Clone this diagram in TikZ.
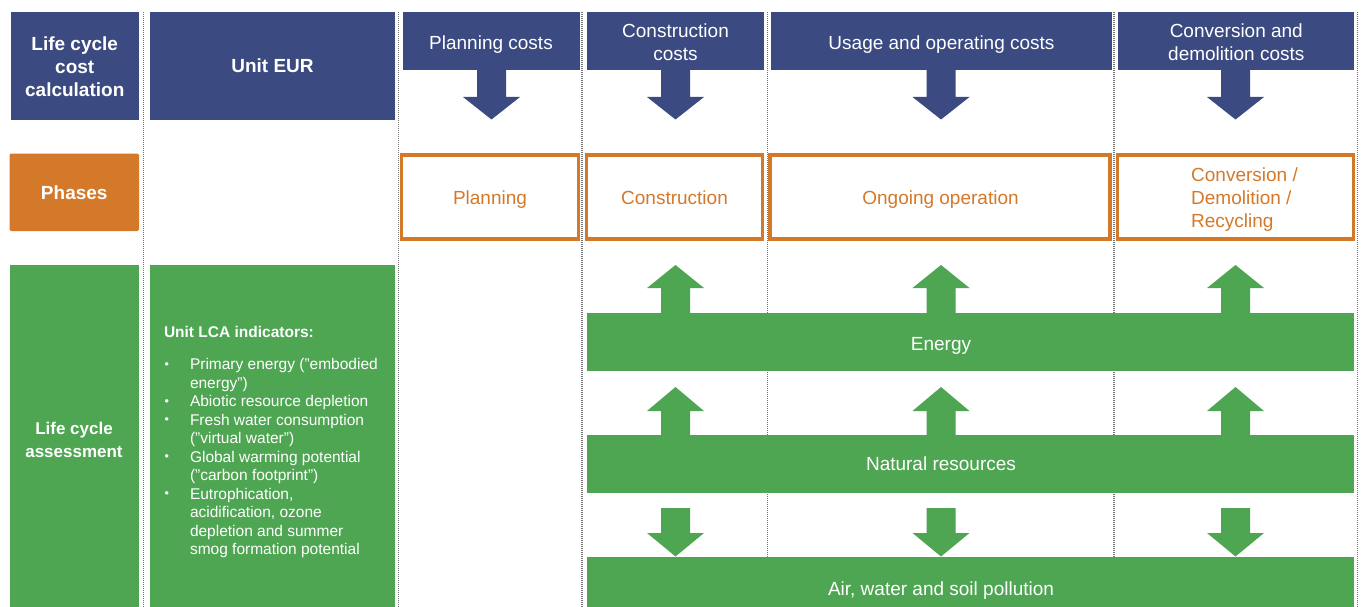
\documentclass[tikz,border=0pt]{standalone}
\usepackage{fontspec}
\setmainfont{Liberation Sans}
\definecolor{navy}{HTML}{3B4A80}
\definecolor{lcorange}{HTML}{D4792A}
\definecolor{lcgreen}{HTML}{4EA652}
\newcommand\fs[2]{\fontsize{#1}{#2}\selectfont}
\newcommand\lcabullet{\makebox[27pt][l]{\hspace{1.5pt}\raisebox{1.8pt}{\fs{12.5}{12.5}\textbullet}}}
% #1 centre x, #2 shaft end, #3 head base, #4 tip, #5 colour
\newcommand\FatArrow[5]{%
  \fill[#5] (#1-14.5,#2) -- (#1+14.5,#2) -- (#1+14.5,#3) -- (#1+28.5,#3) -- (#1,#4)
    -- (#1-28.5,#3) -- (#1-14.5,#3) -- cycle;}
\tikzset{
  box/.style={inner sep=0pt, outer sep=0pt},
  navybox/.style={box, fill=navy},
  phasefill/.style={box, fill=lcorange},
  phasebox/.style={box, draw=lcorange, fill=white, line width=3.3pt},
  greenbox/.style={box, fill=lcgreen},
  lbl/.style={inner sep=0pt, outer sep=0pt, align=center},
  wlbl/.style={lbl, text=white, font=\fs{19}{23}},
  wblbl/.style={lbl, text=white, font=\bfseries\fs{19}{23}},
  olbl/.style={lbl, text=lcorange, font=\fs{19}{23}},
  sep/.style={draw=black!55, dash pattern=on 1pt off 1pt, line width=1.1pt},
}
\begin{document}
\begin{tikzpicture}[x=1pt, y=-1pt]
\useasboundingbox (0,0) rectangle (1362,607);
\fill[white] (0,0) rectangle (1362,607);
% dotted column separators
\foreach \xx in {143.5,398.5,582,767.5,1114,1357.5}
  \draw[sep] (\xx,12) -- (\xx,607);

% row 1: cost calculation
\node[navybox, minimum width=128.5pt, minimum height=107.5pt] (lcc) at (74.75,66.25) {};
\node[navybox, minimum width=245pt, minimum height=107.5pt] (unit) at (272.5,66.25) {};
\node[navybox, minimum width=177pt, minimum height=57.5pt] (hPlan) at (491,41.25) {};
\node[navybox, minimum width=177pt, minimum height=57.5pt] (hCons) at (675.5,41.25) {};
\node[navybox, minimum width=341pt, minimum height=57.5pt] (hUse) at (941.2,41.25) {};
\node[navybox, minimum width=236pt, minimum height=57.5pt] (hConv) at (1236.3,41.25) {};

\node[wblbl] (lccT) at (74.75,66.6) {Life cycle\\cost\\calculation};
\node[wblbl, anchor=base] (unitT) at (272.5,72.7) {Unit EUR};
\node[wlbl, anchor=base] (hPlanT) at (491,49.3) {Planning costs};
\node[wlbl] (hConsT) at (675.5,42.5) {Construction\\costs};
\node[wlbl, anchor=base] (hUseT) at (941.5,49.3) {Usage and operating costs};
\node[wlbl] (hConvT) at (1236.3,42.3) {Conversion and\\demolition costs};

\FatArrow{491.5}{69}{97}{119.5}{navy}
\FatArrow{675.5}{69}{97}{119.5}{navy}
\FatArrow{941}{69}{97}{119.5}{navy}
\FatArrow{1235.5}{69}{97}{119.5}{navy}

% row 2: phases
\node[phasefill, rounded corners=2pt, minimum width=129.5pt, minimum height=77.5pt] (phases) at (74.25,192.25) {};
\node[wblbl, anchor=base] (phasesT) at (74.25,199.3) {Phases};
\node[phasebox, minimum width=176.7pt, minimum height=84pt] (pPlan) at (490,197) {};
\node[phasebox, minimum width=175.7pt, minimum height=84pt] (pCons) at (674.5,197) {};
\node[phasebox, minimum width=340.1pt, minimum height=84pt] (pOper) at (940,197) {};
\node[phasebox, minimum width=236pt, minimum height=84pt] (pConv) at (1235.65,197) {};
\node[olbl, anchor=base] (pPlanT) at (490,204) {Planning};
\node[olbl, anchor=base] (pConsT) at (674.5,204) {Construction};
\node[olbl, anchor=base] (pOperT) at (940.5,204) {Ongoing operation};
\node[olbl, align=left] (pConvT) at (1244.5,199.8) {Conversion /\\Demolition /\\Recycling};

% row 3: life cycle assessment
\node[greenbox, minimum width=129pt, minimum height=342pt] (lca) at (74,436) {};
\node[greenbox, minimum width=245pt, minimum height=342pt] (unitlca) at (272.5,436) {};
\node[lbl, text=white, font=\bfseries\fs{17}{23}] (lcaT) at (74,440.3) {Life cycle\\assessment};
\node[lbl, anchor=base west, text=white, font=\bfseries\fs{15.5}{18.5}] (lcaHead) at (164,337) {Unit LCA indicators:};
\node[lbl, anchor=north west, text=white, font=\fs{15.5}{18.5}] (lcaList) at (163,357) {%
\begin{tabular}{@{}l@{}l@{}}
\lcabullet & Primary energy ("embodied\\
 & energy")\\
\lcabullet & Abiotic resource depletion\\
\lcabullet & Fresh water consumption\\
 & ("virtual water")\\
\lcabullet & Global warming potential\\
 & ("carbon footprint")\\
\lcabullet & Eutrophication,\\
 & acidification, ozone\\
 & depletion and summer\\
 & smog formation potential
\end{tabular}};

\node[greenbox, minimum width=767.6pt, minimum height=58.6pt] (energy) at (970.5,342) {};
\node[greenbox, minimum width=767.6pt, minimum height=57.7pt] (natural) at (970.5,463.85) {};
\node[greenbox, minimum width=767.6pt, minimum height=50.3pt] (pollution) at (970.5,581.85) {};
\node[wlbl, anchor=base] (energyT) at (941,350) {Energy};
\node[wlbl, anchor=base] (naturalT) at (941,470) {Natural resources};
\node[wlbl, anchor=base] (pollutionT) at (941,595) {Air, water and soil pollution};

\foreach \cx in {675.5,941,1235.5} {
  \FatArrow{\cx}{314}{288}{265}{lcgreen}
  \FatArrow{\cx}{436}{411}{387}{lcgreen}
  \FatArrow{\cx}{508}{533}{556.5}{lcgreen}
}
\end{tikzpicture}
\end{document}
